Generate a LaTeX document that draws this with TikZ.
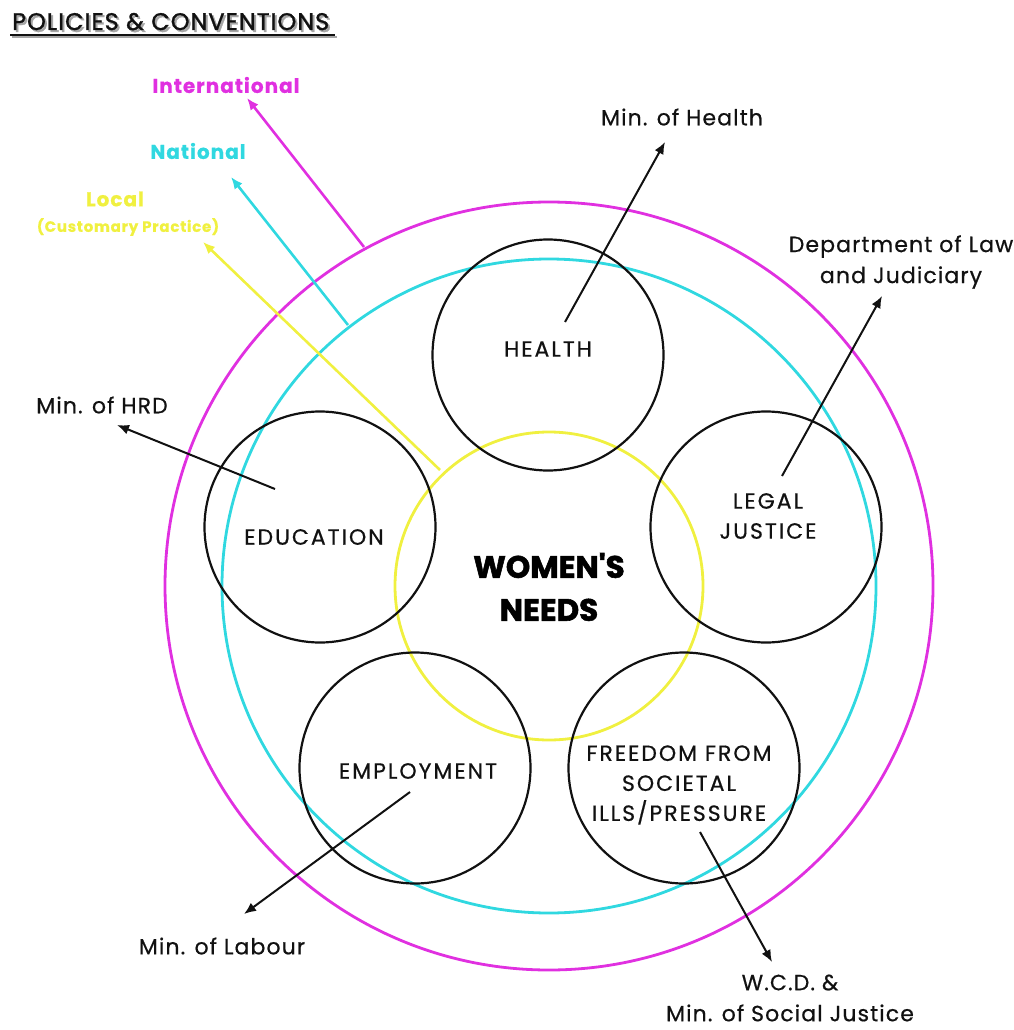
\documentclass[tikz,border=0pt]{standalone}
\usepackage{fontspec}
\setmainfont{Poppins}
\newfontfamily\cfont[LetterSpace=9,FakeBold=0.6]{Poppins}
\newfontfamily\lfont[LetterSpace=5,FakeBold=0.6]{Poppins}
\newfontfamily\tfont[LetterSpace=4,FakeBold=1.2]{Poppins}
\newfontfamily\wfont[FakeBold=1.8]{Poppins Bold}
\usetikzlibrary{arrows.meta}
\definecolor{mag}{HTML}{E030E0}
\definecolor{cya}{HTML}{30D8E0}
\definecolor{yel}{HTML}{F0F040}
\definecolor{ink}{HTML}{111111}
\begin{document}
\begin{tikzpicture}[x=1pt,y=-1pt,
  ring/.style={line width=2.8pt},
  need/.style={circle,draw=ink,line width=2.2pt,minimum size=231pt,inner sep=0pt},
  ntext/.style={font=\cfont\fontsize{22}{30}\selectfont,text=ink,align=center},
  lbl/.style={font=\lfont\fontsize{22}{31}\selectfont,text=ink,align=center},
  arr/.style={draw=ink,line width=2pt,-{Latex[length=12pt,width=10pt]}},
  carr/.style={line width=2.6pt,-{Latex[length=12pt,width=10pt]}}]
\useasboundingbox (0,0) rectangle (1013,1030);
% title
\node[anchor=base west,text=black!35,font=\tfont\fontsize{24}{26}\selectfont,inner sep=0pt] (tshadow) at (14,32) {POLICIES \& CONVENTIONS};
\node[anchor=base west,text=ink,font=\tfont\fontsize{24}{26}\selectfont,inner sep=0pt] (title) at (12,30) {POLICIES \& CONVENTIONS};
\draw[black!35,line width=2.5pt] (12,37) -- (337,37);
\draw[ink,line width=1.8pt] (10,35) -- (335,35);
% rings
\coordinate (C) at (549,586);
\draw[ring,mag] (C) circle (384);
\draw[ring,cya] (C) circle (327);
\draw[ring,yel] (C) circle (154);
% need circles
\node[need] (health) at (548,355) {};
\node[need] (edu) at (320,527) {};
\node[need] (legal) at (766,527) {};
\node[need] (emp) at (415,768) {};
\node[need] (free) at (684,768) {};
\node[ntext] at (548,349) {HEALTH};
\node[ntext] at (314,537) {EDUCATION};
\node[ntext] at (768,516) {LEGAL\\JUSTICE};
\node[ntext] at (418,771) {EMPLOYMENT};
\node[ntext] at (679,785) {FREEDOM FROM\\SOCIETAL\\ILLS/PRESSURE};
\node[font=\wfont\fontsize{31}{43}\selectfont,text=black,align=center] (wn) at (549,587) {WOMEN'S\\NEEDS};
% labels
\node[lbl] (lhealth) at (682,117) {Min. of Health};
\node[lbl] (llaw) at (901,262) {Department of Law\\and Judiciary};
\node[lbl] (lhrd) at (102,405) {Min. of HRD};
\node[lbl] (llab) at (222,946) {Min. of Labour};
\node[lbl] (lwcd) at (790,998) {W.C.D. \&\\Min. of Social Justice};
\node[font=\lfont\fontsize{20}{22}\selectfont\bfseries,text=mag] (lint) at (226,85) {International};
\node[font=\lfont\fontsize{20}{22}\selectfont\bfseries,text=cya] (lnat) at (198,151) {National};
\node[font=\lfont\fontsize{20}{22}\selectfont\bfseries,text=yel] (lloc) at (115,199) {Local};
\node[font=\lfont\fontsize{15}{16}\selectfont\bfseries,text=yel] (lcus) at (128,227) {(Customary Practice)};
% black arrows
\coordinate (th) at (565,322); \coordinate (hh) at (665,142);
\coordinate (tl) at (782,476); \coordinate (hl) at (882,296);
\coordinate (te) at (275,489); \coordinate (he) at (117,425);
\coordinate (tm) at (410,792); \coordinate (hm) at (244,914);
\coordinate (tf) at (700,832); \coordinate (hf) at (772,962);
\draw[arr] (th) -- (hh);
\draw[arr] (tl) -- (hl);
\draw[arr] (te) -- (he);
\draw[arr] (tm) -- (hm);
\draw[arr] (tf) -- (hf);
% coloured arrows
\coordinate (ti) at (364,247); \coordinate (hi) at (247,98);
\coordinate (tn) at (348,325); \coordinate (hn) at (231,177);
\coordinate (ty) at (440,470); \coordinate (hy) at (203,242);
\draw[carr,mag] (ti) -- (hi);
\draw[carr,cya] (tn) -- (hn);
\draw[carr,yel] (ty) -- (hy);
\end{tikzpicture}
\end{document}
